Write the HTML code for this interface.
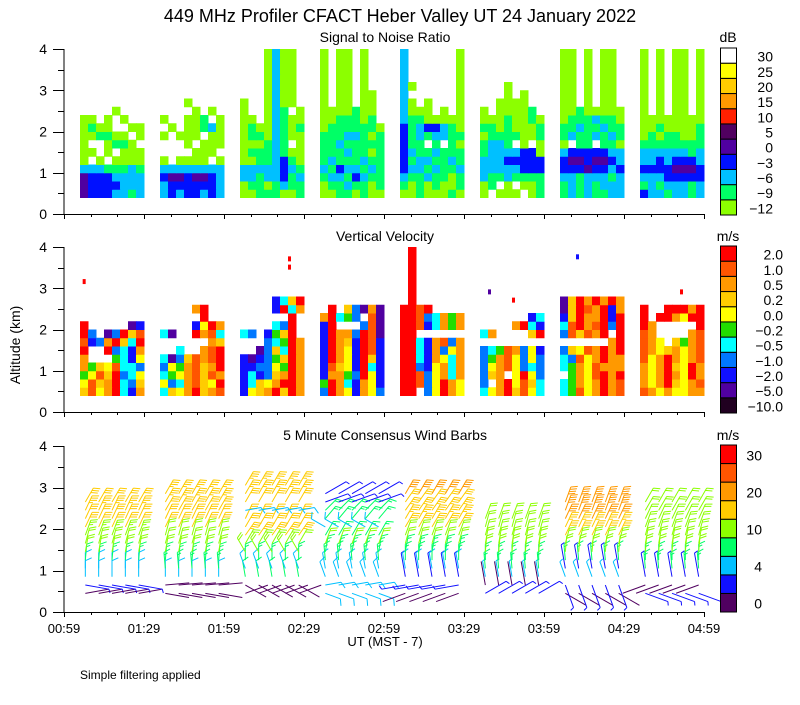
<!DOCTYPE html>
<html><head><meta charset="utf-8"><style>
body{margin:0;background:#fff}
svg text{font-family:"Liberation Sans",sans-serif;fill:#000}
</style></head><body>
<svg id="c" width="800" height="700" viewBox="0 0 800 700" xmlns="http://www.w3.org/2000/svg">
<text x="400" y="22" font-size="18" text-anchor="middle">449 MHz Profiler CFACT Heber Valley UT 24 January 2022</text>
<text x="385" y="42" font-size="14" text-anchor="middle">Signal to Noise Ratio</text>
<text x="385" y="241" font-size="14" text-anchor="middle">Vertical Velocity</text>
<text x="385" y="440" font-size="14" text-anchor="middle">5 Minute Consensus Wind Barbs</text>
<text x="20" y="345" font-size="14" text-anchor="middle" transform="rotate(-90 20 345)">Altitude (km)</text>
<text x="385" y="646" font-size="13" text-anchor="middle">UT  (MST - 7)</text>
<text x="80" y="679" font-size="12">Simple filtering applied</text>
<text x="728" y="42" font-size="14" text-anchor="middle">dB</text>
<text x="728" y="241" font-size="14" text-anchor="middle">m/s</text>
<text x="728" y="440" font-size="14" text-anchor="middle">m/s</text>
</svg>
<script>
// ---------- data ----------
const blockStarts=[6,36,66,96,126,156,186,216]; // minutes after 00:59
const colMinutes=3, rowKm=0.2, baseKm=0.4;
const snrCodes={a:'#8cff00',b:'#00ff66',c:'#00c0ff',d:'#0010ff',e:'#5000a0',f:'#500060'};
const snrBlocks=[
["edddccbc","eddddccc","edddcccc","cccbbbcb","a.a.aaaa","aa.a.aaa","a..abba.","aabbaa.a","abaa..aa","aa.a.a..","....a..."],
["cdcddcdc","cddddddc","deedeedc","cccccccc","a.aaaa.a","....aaa.","...a.aaa","a.aaa.aa",".a.aabca","a..aab.a","....a.a.","...a...."],
["aabbbaab","abbabcbb","ccbccdbc","cccccdcb","aabbcdba","abbbcbaa","aaabcb.a","abbacbaa","abaacbab","aa.acbaa","a..acb.a","a..acaa.","...acaa.","...acaa.","...acaa.","...acaa.","...acaa.","...acaa."],
["aabbabaa","abbcbbab","bccbdcbb","cbdccbcb","bcbbbcbb","bbbcbbab","bbcbbbbb","bbbccbab","abbbbbba","aabbbab.","aaaabaa.","a.aa.aa.","a.aa.aa.","a.aa.a..","a.aa.a..","a.aa.a..","a.aa.a..","a.aa.a.."],
["aabaaaba","bababaab","cbbcbbab","dccbcbbc","dbccbbcb","dcbbcbbb","dbb.b.ba","dbcbccbb","dbcddcba","cbbaaaaa","caaa.a.a","ca.a...a","c......a","ca.....a","c......a","c......a","c......a","c......a"],
["a.aaa.ab","ab.a.aab","cbbcbbbb","cccccddd","cccddddd","bccccdda","bccb.a.a","abbbbaab","bbabaaab","aaabaaba","a.aaaab.","..aaaa..","...a.a..","...a...."],
["bcbcbbcc","bcbcbccc","ccbcccbc","dddeddcd","deedeedc","cdddddcc","a.bb.bba","bcbbcbcb","bbcbbcbb","abbbcbba","aabaaaaa","aa.a.aa.","aa.a.aa.","aa.a.aa.","aa.a.aa.","aa.a.aa.","aa.a.aa.","aa.a.aa."],
["dccbccbc","bcbcccbc","cccddddd","ddddeeed","ccdcdddc","ccccccbc","bbbbbbbb","ababbaab","aabaaaab","aaaaaaaa","a.a.aa.a","a.a.aa.a","a.a.aa.a","a.a.aa.a","a.a.aa.a","a.a.aa.a","a.a.aa.a","a.a.aa.a"]
];
const velCodes={R:'#ff0000',O:'#ff5500',o:'#ff9900',g:'#ffcc00',y:'#ffff00',G:'#22dd00',c:'#00ffff',b:'#0077ff',B:'#1010ff',P:'#5000a0',K:'#200020'};
const velBlocks=[
["gOyoRcBo","yOgoRcbg","GyOgRbcy","oGgyOccb","o...GcBy","R..RbcBo","OBboRgcR","Rb.PbRgO","R.....PB"],
["cgyoRgoO","ybcoOgyR","cGyoOgOo","byGoOgoR","cPbgOoOR","..c..oOR","......og","cP..RoOc","....ByRo",".....R..","....oR.."],
["BygoRgRo","BcgyoRRo","BcBbgoRo","BBbbyGRo","BPBbGgRo","..PbgcRo","...bcGRo","cb.BGgR.","....cbR.","......R.","....BRco","....BcgR"],
["bRoyBoyb","GRocBoyB","BooGbRyB","BOgyBRcB","BRoyBRgB","BRoyBROB","BRogBROB","BRoobROP","BR...bOP","oRcGb.OP",".R.gbPoP"],
["RR.byRoy","RRObyRoy","RRObyoco","RRbByoco","RRcBoyco","RRcBobyo","RRcBoObo","RR......","RROBcoGo","RRObcoGo","RROR....",".R......",".R......",".R......",".R......",".R......",".R......",".R......"],
["cyoRgOyc","b.oRyOgc","bgo.yRyb","byoOybcb","bGoOybyb","bcGOobyB","........","co....gR","....oRcB","......Bc"],
["cGOyoRoO","cGoyoRoO",".GoyORoR","cGoyOooo","cbOyoRoo","bgyOoRoR","......oR","bOgOoR.R","cORoORbR","BgRooRBR","PgROoRBo","PgRoRoRo"],
["Ooyoyyoo","oyoRgyoO","oyoRoyRo","oyoRgyRo","OyoRoyoO","OoygoyoO","Ooy.gGoO","Oo....oO","Ro.....R","R.RRoyRR","R..RRRoR"]
];
const velDotTimes=[7,84,84,159,168,192,231];
const velDotKm=[3.15,3.5,3.7,2.9,2.7,3.75,2.9];
const velDotCode=['R','R','R','P','R','B','R'];
const barbHeights=[0.45,0.65,0.85,1.05,1.25,1.45,1.65,1.85,2.05,2.25,2.45,2.65,2.85,3.05];
const barbOffsets=[2,7,12,17,22];
const barbSpeeds=[
[1,3,5,6,9,11,12,14,16,17,18,17,-1,-1],
[1,1,6,8,9,11,12,12,16,17,17,18,18,-1],
[1,1,7,5,8,10,12,18,17,16,6,17,18,18],
[5,5,5,6,8,9,10,8,6,8,9,3,3,-1],
[1,3,3,6,8,9,10,12,16,18,18,17,20,-1],
[3,1,4,8,9,10,10,11,11,10,-1,-1,-1,-1],
[1,3,4,3,8,10,12,16,18,20,22,20,-1,-1],
[3,1,3,8,9,10,10,11,12,12,11,10,-1,-1]];
const barbDirs=[
[10,-10,90,90,85,80,75,70,65,65,65,60,0,0],
[-10,5,90,95,85,80,75,75,65,65,60,60,60,0],
[20,-30,100,110,90,120,60,55,60,65,10,60,60,60],
[-20,10,110,100,95,80,70,60,150,50,45,20,30,0],
[200,190,100,100,90,80,75,70,60,60,55,55,60,0],
[30,100,100,95,90,85,80,75,75,70,0,0,0,0],
[-30,-70,110,100,95,85,75,65,65,65,70,70,0,0],
[-20,200,100,95,90,85,80,75,70,65,60,60,0,0]];
const snrBarColors=['#8cff00','#00ff66','#00c0ff','#0010ff','#5000a0','#500060','#ff2000','#ff9900','#ffcc00','#ffff00','#ffffff'];
const snrBarLabels=['-12','-9','-6','-3','0','5','10','15','20','25','30'];
const velBarColors=['#200020','#5000a0','#1010ff','#0077ff','#00ffff','#22dd00','#ffff00','#ffcc00','#ff9900','#ff5500','#ff0000'];
const velBarLabels=['-10.0','-5.0','-2.0','-1.0','-0.5','-0.2','0.0','0.2','0.5','1.0','2.0'];
const windBarColors=['#500060','#1010ff','#00c0ff','#00ff66','#8cff00','#ffcc00','#ff9900','#ff5500','#ff0000'];
const windLevels=[0,2,4,7,10,15,20,25,30];
const windBarLabels=['0','','4','','10','','20','','30'];
const xTickLabels=['00:59','01:29','01:59','02:29','02:59','03:29','03:59','04:29','04:59'];
const yTickValues=[0,1,2,3,4];

// ---------- helpers ----------
const svg=document.getElementById('c');
const NS='http://www.w3.org/2000/svg';
function mk(tag,attrs,parent){const e=document.createElementNS(NS,tag);for(const k in attrs)e.setAttribute(k,attrs[k]);(parent||svg).appendChild(e);return e;}
const panels=[{top:49,bot:214,name:'snr'},{top:247,bot:412,name:'velocity'},{top:446,bot:612,name:'wind'}];
const X0=64,X1=704;
function xs(min){return X0+min*(X1-X0)/240;}
function ysf(p){return km=>p.bot-km*(p.bot-p.top)/4;}

// ---------- heatmaps ----------
function heat(blocks,codes,p,nm){
  const g=mk('g',{});
  
  
  const ys=ysf(p);
  blocks.forEach((rows,b)=>{rows.forEach((row,i)=>{for(let j=0;j<row.length;j++){const ch=row[j];if(ch==='.')continue;
    const x=xs(blockStarts[b]+j*colMinutes),x2=xs(blockStarts[b]+(j+1)*colMinutes);
    const y=ys(baseKm+(i+1)*rowKm),y2=ys(baseKm+i*rowKm);
    const r=mk('rect',{x:x,y:y,width:x2-x+0.5,height:y2-y+0.5,fill:codes[ch]},g);
    
    }});});
}
heat(snrBlocks,snrCodes,panels[0],'snr');
heat(velBlocks,velCodes,panels[1],'velocity');
{const ys=ysf(panels[1]);velDotTimes.forEach((t,i)=>{const r=mk('rect',{x:xs(t),y:ys(velDotKm[i])-3,width:3,height:5,fill:velCodes[velDotCode[i]]});
 
 });}

// ---------- wind barbs ----------
{const p=panels[2],ys=ysf(p);
 const g=mk('g',{'stroke-width':1,fill:'none'});
 
 
 barbSpeeds.forEach((sp,b)=>{barbOffsets.forEach(off=>{sp.forEach((s,h)=>{if(s<0)return;
   let ci=0;for(let k=0;k<windLevels.length;k++)if(s>=windLevels[k])ci=k;
   const col=windBarColors[ci];
   const x=xs(blockStarts[b]+off),y=ys(barbHeights[h]);
   const a=barbDirs[b][h]*Math.PI/180,L=s<4?24:16;
   const ex=x+L*Math.cos(a),ey=y-L*Math.sin(a);
   let d='M'+x+' '+y+'L'+ex+' '+ey;
   const fa=a-65*Math.PI/180;
   let full=Math.floor(s/5),half=(s%5)>=2.5?1:0;let k=0;
   for(;k<full;k++){const px=ex-2.5*k*Math.cos(a),py=ey+2.5*k*Math.sin(a);d+='M'+px+' '+py+'l'+(7*Math.cos(fa))+' '+(-7*Math.sin(fa));}
   if(half){const px=ex-2.5*k*Math.cos(a),py=ey+2.5*k*Math.sin(a);d+='M'+px+' '+py+'l'+(4*Math.cos(fa))+' '+(-4*Math.sin(fa));}
   const path=mk('path',{d:d,stroke:col},g);
   
   });});});}

// ---------- axes ----------
panels.forEach((p,pi)=>{const ys=ysf(p);
 const g=mk('g',{stroke:'#000','stroke-width':1,fill:'none'});
 
 
 mk('path',{d:'M'+X0+' '+p.top+'V'+(p.bot+0.5)+'H'+X1},g);
 for(let v=0;v<=4;v+=0.5){const yy=Math.round(ys(v))+0.5;mk('path',{d:'M'+X0+' '+yy+'h'+(v%1===0?-11:-6)},g);}
 for(let m=0;m<=240;m+=10){const xx=Math.round(xs(m))+0.5;mk('path',{d:'M'+xx+' '+p.bot+'v'+(m%30===0?5:3)},g);}
 yTickValues.forEach(v=>{const t=mk('text',{x:47,y:ys(v)+5,'font-size':14,'text-anchor':'end'});t.textContent=v;
  
  });
});
xTickLabels.forEach((l,i)=>{const t=mk('text',{x:xs(i*30),y:633,'font-size':13,'text-anchor':'middle'});t.textContent=l;
 
 });

// ---------- colorbars ----------
function cbar(colors,labels,top,bot,lx,nm){const n=colors.length,h=(bot-top)/n;
 const g=mk('g',{});
 
 
 colors.forEach((c,i)=>{const y=bot-(i+1)*h;mk('rect',{x:720.5,y:y,width:16,height:h,fill:c,stroke:'#000','stroke-width':1},g);
  if(labels[i]){const t=mk('text',{x:lx,y:y+h/2+6,'font-size':14,'text-anchor':'end'},g);t.textContent=labels[i].replace('-','\u2212');
   
   }});}
cbar(snrBarColors,snrBarLabels,48,215,773,'snr');
cbar(velBarColors,velBarLabels,246,413,783,'velocity');
cbar(windBarColors,windBarLabels,445,612,762,'wind');
</script>
</body></html>
